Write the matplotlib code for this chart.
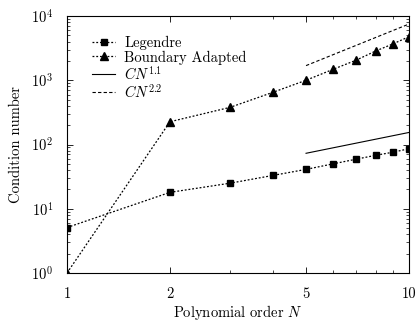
import numpy as np
import matplotlib
matplotlib.use('Agg')
import matplotlib.pyplot as plt
from matplotlib.ticker import LogLocator, FixedLocator, NullFormatter, FixedFormatter

plt.rcParams['font.family'] = ['cmr10']
plt.rcParams['mathtext.fontset'] = 'cm'
plt.rcParams['axes.formatter.use_mathtext'] = True
plt.rcParams['font.size'] = 10.5

# polynomial order and condition numbers
order = [1, 2, 3, 4, 5, 6, 7, 8, 9, 10]
legendre = [5.1, 18, 25, 33, 41, 50, 59, 68, 76, 86]
boundary_adapted = [1.0, 226, 379, 649, 1000, 1480, 2050, 2860, 3700, 4770]

# reference slopes, drawn from N=5 to N=10
slope_n = [5, 10]
cn11 = [73, 154]
cn22 = [1690, 7500]

fig = plt.figure(figsize=(4.18, 3.21), dpi=100)
ax = fig.add_axes([67/418, 1 - 273/321, (409-67)/418, (273-16)/321])

ax.plot(order, legendre, color='black', lw=0.9, ls=(0, (1.5, 1.5)), marker='s', ms=4, label='Legendre')
ax.plot(order, boundary_adapted, color='black', lw=0.9, ls=(0, (1.5, 1.5)), marker='^', ms=5.5, label='Boundary Adapted')
ax.plot(slope_n, cn11, '-', color='black', lw=0.8, label=r'$CN^{1.1}$')
ax.plot(slope_n, cn22, '--', color='black', lw=0.8, dashes=(3, 2), label=r'$CN^{2.2}$')

ax.set_xscale('log')
ax.set_yscale('log')
ax.set_xlim(1, 10)
ax.set_ylim(1, 1e4)

ax.xaxis.set_major_locator(FixedLocator([1, 2, 5, 10]))
ax.xaxis.set_major_formatter(FixedFormatter(['1', '2', '5', '10']))
ax.xaxis.set_minor_locator(FixedLocator([3, 4, 6, 7, 8, 9]))
ax.xaxis.set_minor_formatter(NullFormatter())
ax.yaxis.set_major_locator(LogLocator(base=10, numticks=10))
ax.yaxis.set_minor_locator(LogLocator(base=10, subs=np.arange(2, 10), numticks=10))
ax.yaxis.set_minor_formatter(NullFormatter())

ax.tick_params(which='both', direction='in', top=True, right=True, labelsize=10.5)
ax.tick_params(axis='x', pad=10)
ax.tick_params(axis='y', pad=10)
ax.tick_params(which='major', length=4, width=0.6)
ax.tick_params(which='minor', length=2.5, width=0.5)
for s in ax.spines.values():
    s.set_linewidth(0.8)

ax.set_xlabel(r'Polynomial order $N$', fontsize=10.5, labelpad=2)
ax.set_ylabel('Condition number', fontsize=10.5, labelpad=6)

ax.legend(loc='upper left', bbox_to_anchor=(0.035, 0.973), frameon=False, fontsize=10.5,
          handlelength=1.6, handletextpad=0.6, labelspacing=0.0)

fig.savefig('out.png', dpi=100)
